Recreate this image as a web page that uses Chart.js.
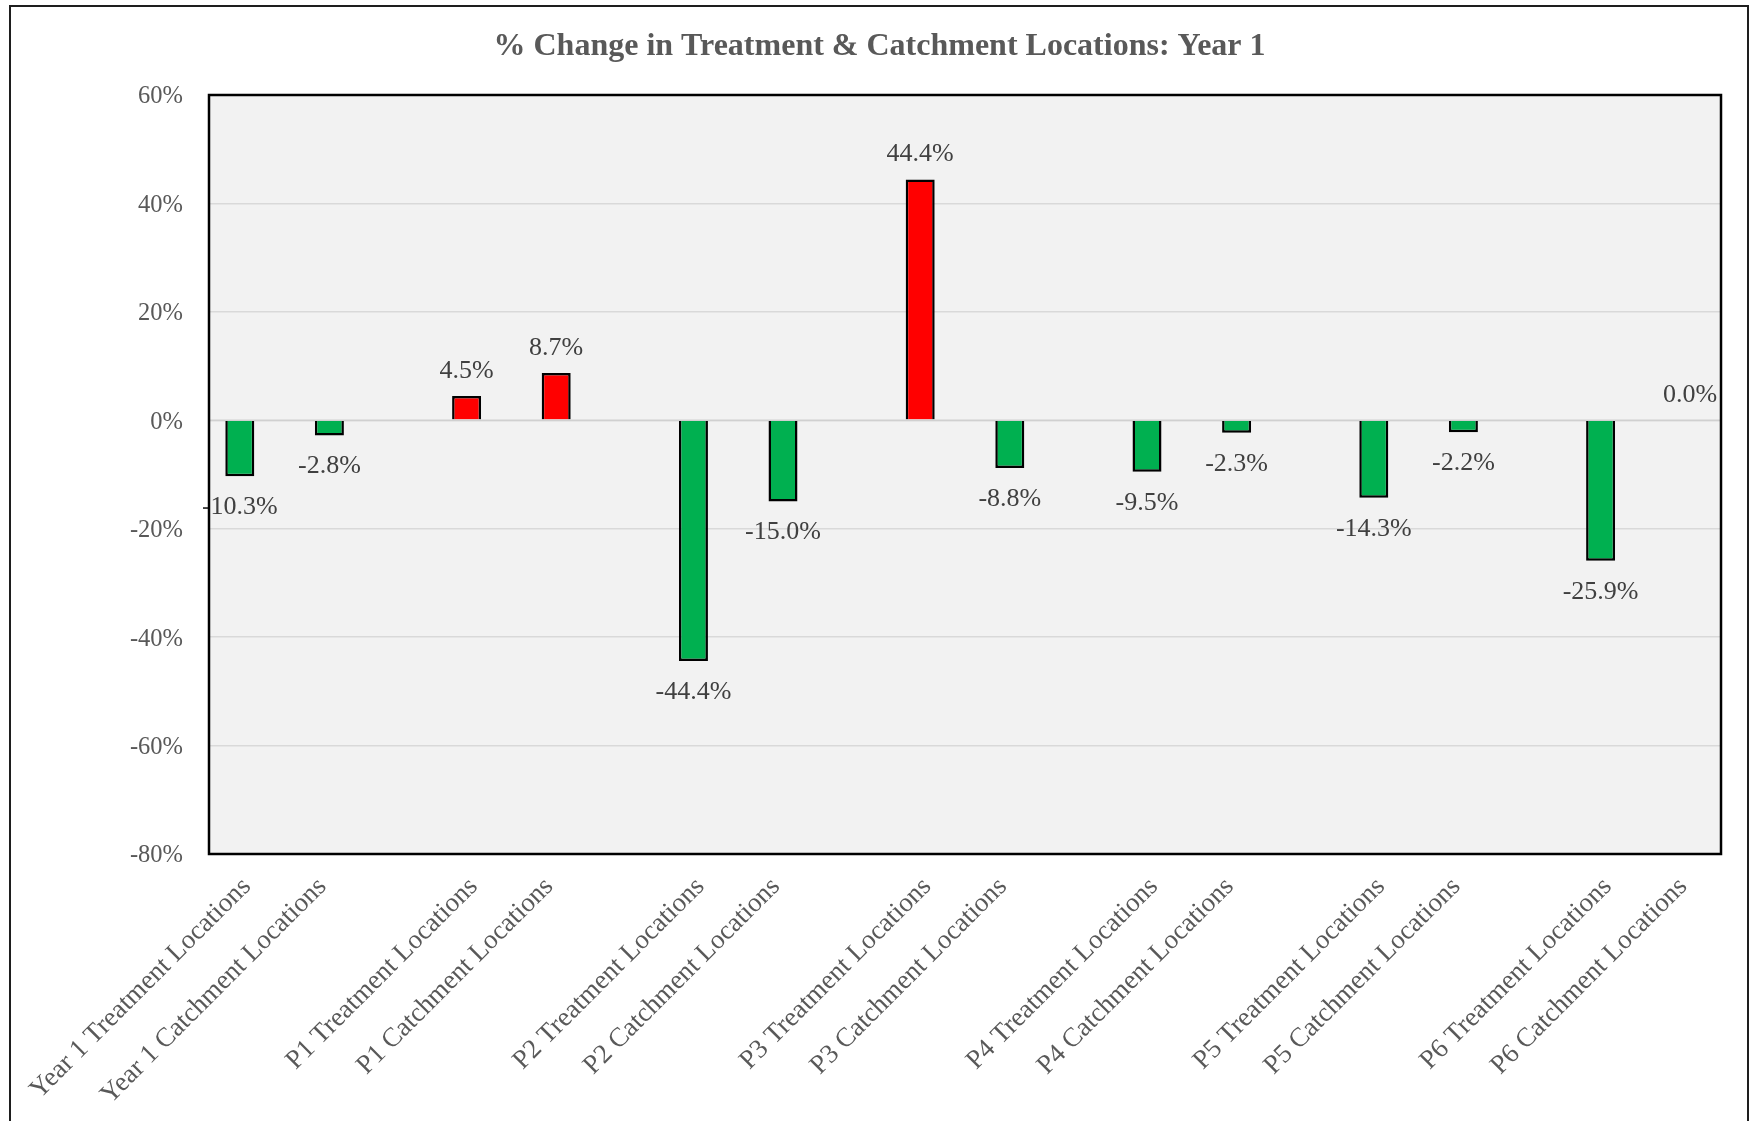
<!DOCTYPE html>
<html>
<head>
<meta charset="utf-8">
<script src="https://cdn.jsdelivr.net/npm/chart.js@4.4.1/dist/chart.umd.min.js"></script>
<style>
  html, body { margin: 0; padding: 0; background: #ffffff; }
  #wrap { width: 1751px; height: 1121px; position: relative; }
</style>
</head>
<body>
<div id="wrap"><canvas id="c" width="1751" height="1121"></canvas></div>
<script>
// ---- data ----
const periods = ["Year 1", "P1", "P2", "P3", "P4", "P5", "P6"];
const treatmentValues = [-10.3, 4.5, -44.4, 44.4, -9.5, -14.3, -25.9];
const catchmentValues = [-2.8, 8.7, -15.0, -8.8, -2.3, -2.2, 0.0];
const yTicks = [-80, -60, -40, -20, 0, 20, 40, 60];
const titleText = "% Change in Treatment & Catchment Locations: Year 1";

// ---- build category axis (pairs separated by an empty slot) ----
const labels = [];
const tData = [];
const cData = [];
periods.forEach((p, i) => {
  labels.push(p + " Treatment Locations"); tData.push(treatmentValues[i]); cData.push(null);
  labels.push(p + " Catchment Locations"); tData.push(null); cData.push(catchmentValues[i]);
  if (i < periods.length - 1) { labels.push(""); tData.push(null); cData.push(null); }
});

const GREEN = "#00B050", RED = "#FF0000";
const colorFor = (ctx) => (ctx.raw !== null && ctx.raw >= 0 ? RED : GREEN);
const SERIF = "'Liberation Serif', 'Times New Roman', serif";

const framePlugin = {
  id: "frame",
  beforeDraw(chart) {
    const { ctx, chartArea: a } = chart;
    ctx.save();
    ctx.fillStyle = "#F2F2F2";
    ctx.fillRect(a.left, a.top, a.right - a.left, a.bottom - a.top);
    ctx.restore();
  },
  afterDatasetsDraw(chart) {
    const { ctx, chartArea: a, scales } = chart;
    const y0 = scales.y.getPixelForValue(0);
    ctx.save();
    ctx.strokeStyle = "#D0D0D0";
    ctx.lineWidth = 1.5;
    ctx.beginPath(); ctx.moveTo(a.left, y0); ctx.lineTo(a.right, y0); ctx.stroke();
    // data labels
    ctx.fillStyle = "#404040";
    ctx.font = "26px " + SERIF;
    ctx.textAlign = "center";
    ctx.textBaseline = "middle";
    chart.data.datasets.forEach((ds, di) => {
      const meta = chart.getDatasetMeta(di);
      meta.data.forEach((el, i) => {
        const v = ds.data[i];
        if (v === null || v === undefined) return;
        const y = v >= 0 ? el.y - 25 : el.y + 31;
        ctx.fillText(v.toFixed(1) + "%", el.x, y);
      });
    });
    // plot border
    ctx.strokeStyle = "#000000";
    ctx.lineWidth = 2.5;
    ctx.strokeRect(a.left, a.top, a.right - a.left, a.bottom - a.top);
    ctx.restore();
  },
  afterDraw(chart) {
    const { ctx } = chart;
    ctx.save();
    ctx.strokeStyle = "#1e1e1e";
    ctx.lineWidth = 2;
    ctx.beginPath();
    ctx.moveTo(10, 1121); ctx.lineTo(10, 6); ctx.lineTo(1748, 6); ctx.lineTo(1748, 1121);
    ctx.stroke();
    ctx.restore();
  }
};

new Chart(document.getElementById("c"), {
  type: "bar",
  data: {
    labels: labels,
    datasets: [
      { label: "Treatment", data: tData, backgroundColor: colorFor, borderColor: "#000000", borderWidth: 2.5,
        categoryPercentage: 0.3704, barPercentage: 2.0714 },
      { label: "Catchment", data: cData, backgroundColor: colorFor, borderColor: "#000000", borderWidth: 2.5,
        categoryPercentage: 0.3704, barPercentage: 2.0714 }
    ]
  },
  options: {
    responsive: false,
    animation: false,
    devicePixelRatio: 1,
    layout: { padding: { left: 38, right: 30, top: 0, bottom: 0 } },
    plugins: {
      legend: { display: false },
      tooltip: { enabled: false },
      title: {
        display: true, text: titleText, color: "#595959",
        font: { family: SERIF, size: 32, weight: "bold" },
        padding: { top: 28, bottom: 28.6 }
      }
    },
    scales: {
      x: {
        grid: { display: false, drawTicks: false },
        border: { display: false },
        ticks: {
          autoSkip: false, minRotation: 45, maxRotation: 45, padding: 17,
          color: "#595959", font: { family: SERIF, size: 27 }
        },
        afterFit(scale) { scale.height = 267; }
      },
      y: {
        min: -80, max: 60,
        afterBuildTicks(scale) { scale.ticks = yTicks.map(v => ({ value: v })); },
        grid: { color: "#D9D9D9", lineWidth: 1.5, drawTicks: false },
        border: { display: false },
        ticks: {
          padding: 26, labelOffset: 2, color: "#595959", font: { family: SERIF, size: 24.5 },
          callback: (v) => v + "%"
        },
        afterFit(scale) { scale.width = 171; }
      }
    }
  },
  plugins: [framePlugin]
});
</script>
</body>
</html>
